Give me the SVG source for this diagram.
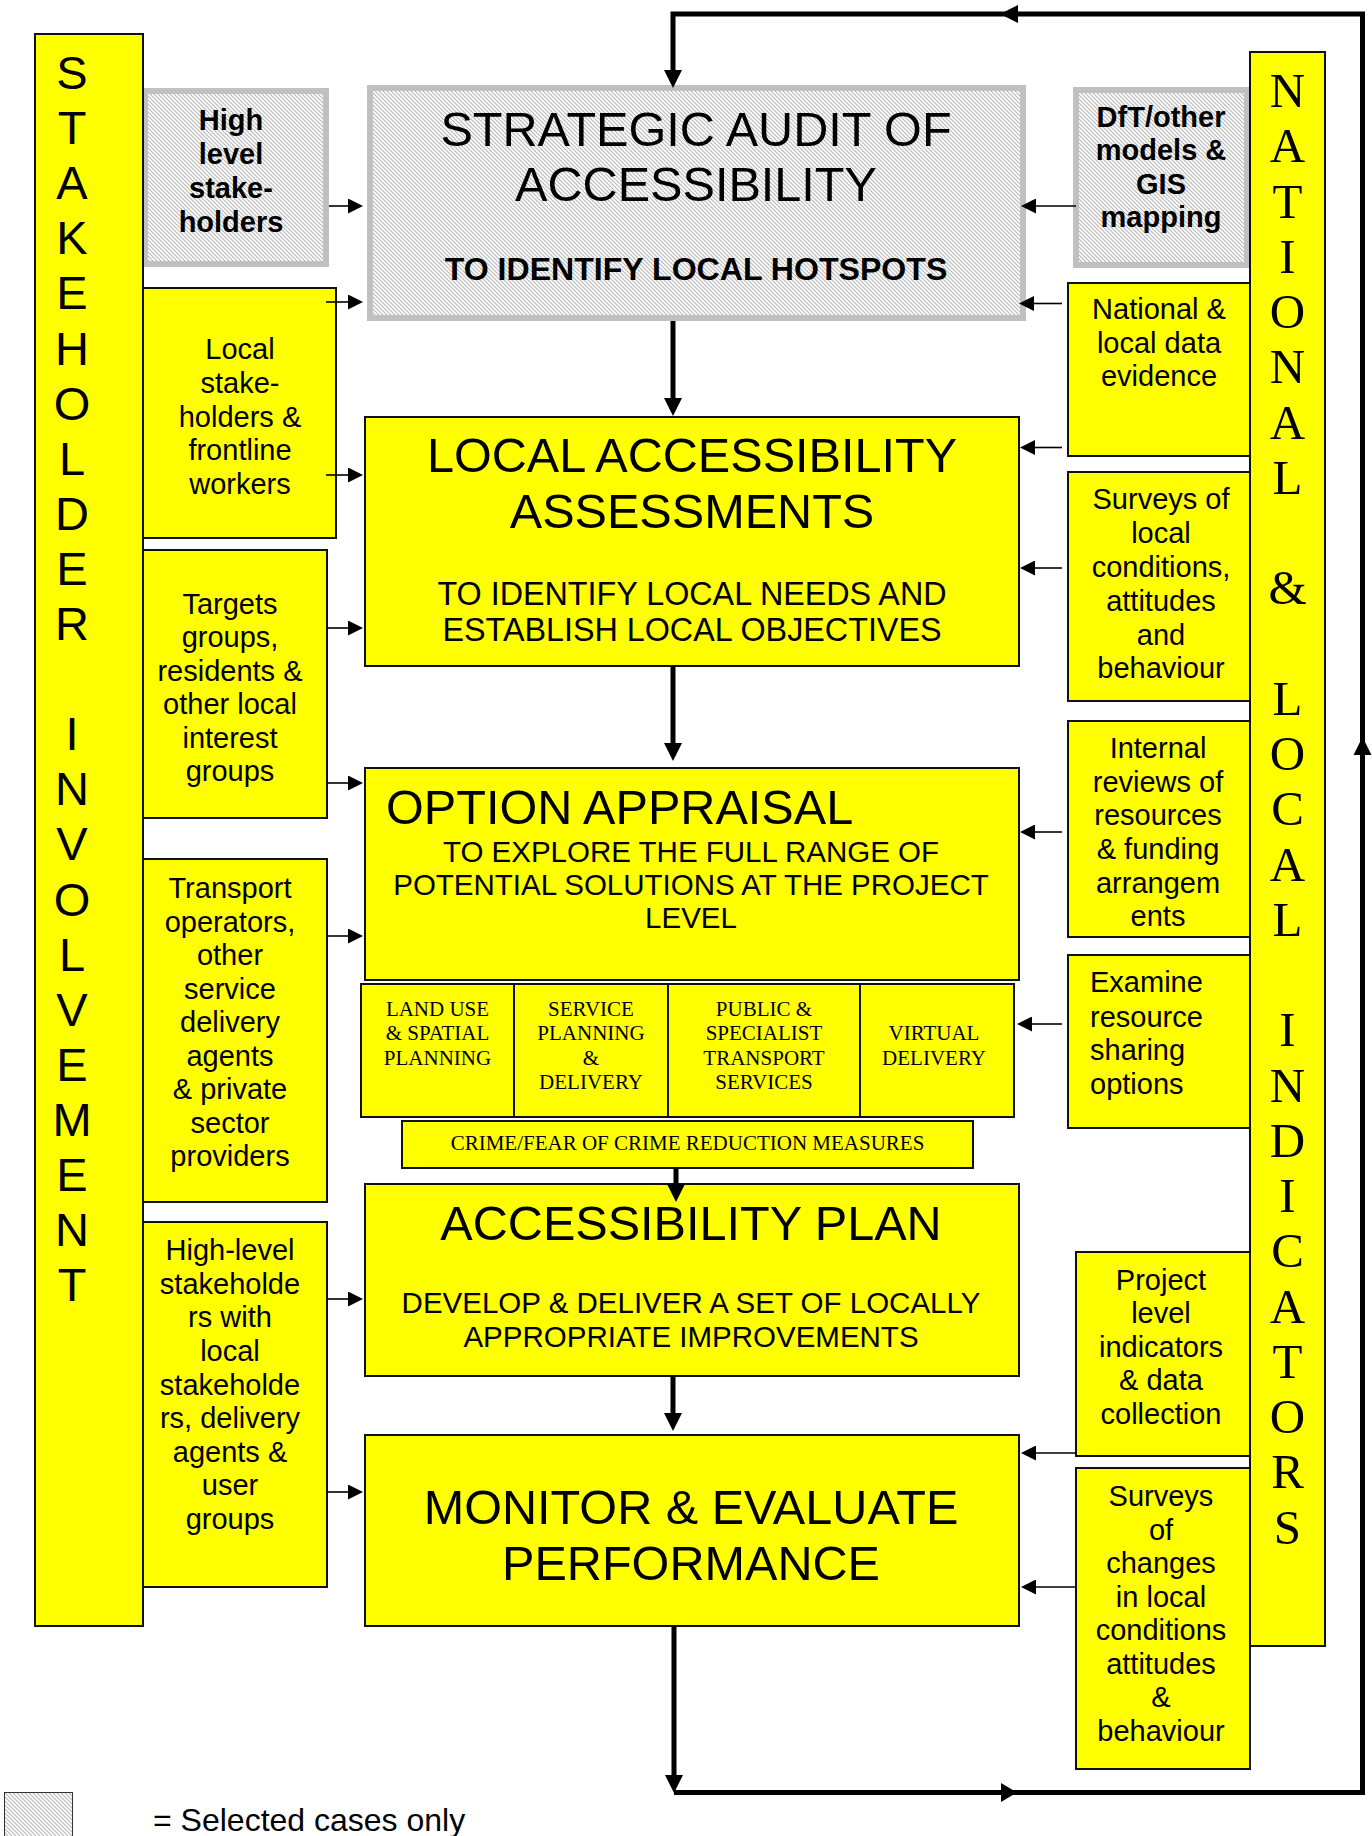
<svg xmlns="http://www.w3.org/2000/svg" width="1372" height="1836" viewBox="0 0 1372 1836">
<style>
.y{fill:#ffff00;stroke:#111;stroke-width:2}
.h{fill:url(#hatch);stroke:#c0c0c0;stroke-width:6}
.t{font-family:"Liberation Sans",Arial,sans-serif;fill:#000}
.s{font-family:"Liberation Serif","Times New Roman",serif;fill:#000}
.title{font-size:48.6px}
.sm{font-size:29px}
.bd{font-size:29px;font-weight:bold}
.sub{font-size:21px}
.c{text-anchor:middle}
.thin{stroke:#000;stroke-width:1.6;fill:none;marker-end:url(#a)}
.thick{stroke:#000;stroke-width:5;fill:none;stroke-linejoin:miter}
.tb{marker-end:url(#b)}
</style>
<defs>
<pattern id="hatch" patternUnits="userSpaceOnUse" width="4" height="4">
<rect width="4" height="4" fill="#fff"/>
<path d="M-1,-1 L5,5 M-1,3 L1,5 M3,-1 L5,1" stroke="#b8b8b8" stroke-width="1.1"/>
</pattern>
<marker id="a" markerUnits="userSpaceOnUse" viewBox="0 0 15 15" markerWidth="15" markerHeight="15" refX="1" refY="7.5" orient="auto"><path d="M0,0 L15,7.5 L0,15 z" fill="#000"/></marker>
<marker id="b" markerUnits="userSpaceOnUse" viewBox="0 0 18 18" markerWidth="18" markerHeight="18" refX="1" refY="9" orient="auto"><path d="M0,0 L18,9 L0,18 z" fill="#000"/></marker>
</defs>
<rect width="1372" height="1836" fill="#fff"/>

<g id="high-level-stakeholders">
<rect class="h" x="145" y="91" width="181" height="173"/>
<text class="t bd c"><tspan x="231" y="130">High</tspan><tspan x="231" y="164">level</tspan><tspan x="231" y="197.5">stake-</tspan><tspan x="231" y="232">holders</tspan></text>
</g>
<g id="local-stakeholders">
<rect class="y" x="143" y="288" width="193" height="250"/>
<text class="t sm c"><tspan x="240" y="359">Local</tspan><tspan x="240" y="393">stake-</tspan><tspan x="240" y="426.5">holders &amp;</tspan><tspan x="240" y="460">frontline</tspan><tspan x="240" y="493.5">workers</tspan></text>
</g>
<g id="target-groups">
<rect class="y" x="143" y="550" width="184" height="268"/>
<text class="t sm c"><tspan x="230" y="613.5">Targets</tspan><tspan x="230" y="647">groups,</tspan><tspan x="230" y="680.5">residents &amp;</tspan><tspan x="230" y="714">other local</tspan><tspan x="230" y="747.5">interest</tspan><tspan x="230" y="781">groups</tspan></text>
</g>
<g id="transport-operators">
<rect class="y" x="143" y="859" width="184" height="343"/>
<text class="t sm c"><tspan x="230" y="898">Transport</tspan><tspan x="230" y="931.5">operators,</tspan><tspan x="230" y="965">other</tspan><tspan x="230" y="998.5">service</tspan><tspan x="230" y="1032">delivery</tspan><tspan x="230" y="1065.5">agents</tspan><tspan x="230" y="1099">&amp; private</tspan><tspan x="230" y="1132.5">sector</tspan><tspan x="230" y="1166">providers</tspan></text>
</g>
<g id="high-level-with-local">
<rect class="y" x="143" y="1222" width="184" height="365"/>
<text class="t sm c"><tspan x="230" y="1260">High-level</tspan><tspan x="230" y="1293.5">stakeholde</tspan><tspan x="230" y="1327">rs with</tspan><tspan x="230" y="1361">local</tspan><tspan x="230" y="1394.5">stakeholde</tspan><tspan x="230" y="1428">rs, delivery</tspan><tspan x="230" y="1461.5">agents &amp;</tspan><tspan x="230" y="1495">user</tspan><tspan x="230" y="1528.5">groups</tspan></text>
</g>

<g id="stakeholder-involvement">
<rect class="y" x="35" y="34" width="108" height="1592"/>
<text class="t c" font-size="47"><tspan x="72" y="89">S</tspan><tspan x="72" y="144.1">T</tspan><tspan x="72" y="199.2">A</tspan><tspan x="72" y="254.3">K</tspan><tspan x="72" y="309.4">E</tspan><tspan x="72" y="364.5">H</tspan><tspan x="72" y="419.6">O</tspan><tspan x="72" y="474.7">L</tspan><tspan x="72" y="529.8">D</tspan><tspan x="72" y="584.9">E</tspan><tspan x="72" y="640">R</tspan><tspan x="72" y="750.2">I</tspan><tspan x="72" y="805.3">N</tspan><tspan x="72" y="860.4">V</tspan><tspan x="72" y="915.5">O</tspan><tspan x="72" y="970.6">L</tspan><tspan x="72" y="1025.7">V</tspan><tspan x="72" y="1080.8">E</tspan><tspan x="72" y="1135.9">M</tspan><tspan x="72" y="1191">E</tspan><tspan x="72" y="1246.1">N</tspan><tspan x="72" y="1301.2">T</tspan></text>
</g>

<g id="strategic-audit">
<rect class="h" x="370" y="88" width="653" height="230"/>
<text class="t title c"><tspan x="696" y="146">STRATEGIC AUDIT OF</tspan><tspan x="696" y="201">ACCESSIBILITY</tspan></text>
<text class="t c" font-size="32.1" font-weight="bold" x="696" y="280">TO IDENTIFY LOCAL HOTSPOTS</text>
</g>
<g id="local-assessments">
<rect class="y" x="365" y="417" width="654" height="249"/>
<text class="t title c"><tspan x="692" y="472">LOCAL ACCESSIBILITY</tspan><tspan x="692" y="528">ASSESSMENTS</tspan></text>
<text class="t c" font-size="32.3"><tspan x="692" y="605">TO IDENTIFY LOCAL NEEDS AND</tspan><tspan x="692" y="641">ESTABLISH LOCAL OBJECTIVES</tspan></text>
</g>
<g id="option-appraisal">
<rect class="y" x="365" y="768" width="654" height="212"/>
<text class="t title" x="386" y="824">OPTION APPRAISAL</text>
<text class="t c" font-size="29.5"><tspan x="691" y="862">TO EXPLORE THE FULL RANGE OF</tspan><tspan x="691" y="895">POTENTIAL SOLUTIONS AT THE PROJECT</tspan><tspan x="691" y="928">LEVEL</tspan></text>
</g>
<g id="land-use">
<rect class="y" x="361" y="984" width="153" height="133"/>
<text class="s sub c"><tspan x="437.5" y="1015.5">LAND USE</tspan><tspan x="437.5" y="1040">&amp; SPATIAL</tspan><tspan x="437.5" y="1064.5">PLANNING</tspan></text>
</g>
<g id="service-planning">
<rect class="y" x="514" y="984" width="154" height="133"/>
<text class="s sub c"><tspan x="591" y="1015.5">SERVICE</tspan><tspan x="591" y="1040">PLANNING</tspan><tspan x="591" y="1064.5">&amp;</tspan><tspan x="591" y="1089">DELIVERY</tspan></text>
</g>
<g id="public-specialist">
<rect class="y" x="668" y="984" width="192" height="133"/>
<text class="s sub c"><tspan x="764" y="1015.5">PUBLIC &amp;</tspan><tspan x="764" y="1040">SPECIALIST</tspan><tspan x="764" y="1064.5">TRANSPORT</tspan><tspan x="764" y="1089">SERVICES</tspan></text>
</g>
<g id="virtual-delivery">
<rect class="y" x="860" y="984" width="154" height="133"/>
<text class="s sub c"><tspan x="934" y="1040">VIRTUAL</tspan><tspan x="934" y="1064.5">DELIVERY</tspan></text>
</g>
<g id="crime-reduction">
<rect class="y" x="402" y="1121" width="571" height="47"/>
<text class="s sub c" x="687.5" y="1150">CRIME/FEAR OF CRIME REDUCTION MEASURES</text>
</g>
<g id="accessibility-plan">
<rect class="y" x="365" y="1184" width="654" height="192"/>
<text class="t title c" x="691" y="1240">ACCESSIBILITY PLAN</text>
<text class="t c" font-size="29.5"><tspan x="691" y="1313">DEVELOP &amp; DELIVER A SET OF LOCALLY</tspan><tspan x="691" y="1347">APPROPRIATE IMPROVEMENTS</tspan></text>
</g>
<g id="monitor-evaluate">
<rect class="y" x="365" y="1435" width="654" height="191"/>
<text class="t title c"><tspan x="691" y="1524">MONITOR &amp; EVALUATE</tspan><tspan x="691" y="1580">PERFORMANCE</tspan></text>
</g>

<g id="dft-models">
<rect class="h" x="1076" y="90" width="171" height="175"/>
<text class="t bd c"><tspan x="1161" y="127">DfT/other</tspan><tspan x="1161" y="160">models &amp;</tspan><tspan x="1161" y="193.5">GIS</tspan><tspan x="1161" y="227">mapping</tspan></text>
</g>
<g id="national-local-data">
<rect class="y" x="1068" y="283" width="182" height="173"/>
<text class="t sm c"><tspan x="1159" y="319">National &amp;</tspan><tspan x="1159" y="352.5">local data</tspan><tspan x="1159" y="386">evidence</tspan></text>
</g>
<g id="surveys-local-conditions">
<rect class="y" x="1068" y="472" width="182" height="229"/>
<text class="t sm c"><tspan x="1161" y="509">Surveys of</tspan><tspan x="1161" y="543">local</tspan><tspan x="1161" y="577">conditions,</tspan><tspan x="1161" y="611">attitudes</tspan><tspan x="1161" y="644.5">and</tspan><tspan x="1161" y="678">behaviour</tspan></text>
</g>
<g id="internal-reviews">
<rect class="y" x="1068" y="721" width="182" height="216"/>
<text class="t sm c"><tspan x="1158" y="758">Internal</tspan><tspan x="1158" y="792">reviews of</tspan><tspan x="1158" y="825">resources</tspan><tspan x="1158" y="859">&amp; funding</tspan><tspan x="1158" y="892.5">arrangem</tspan><tspan x="1158" y="926">ents</tspan></text>
</g>
<g id="examine-resource">
<rect class="y" x="1068" y="955" width="182" height="173"/>
<text class="t sm"><tspan x="1090" y="992">Examine</tspan><tspan x="1090" y="1026.5">resource</tspan><tspan x="1090" y="1060">sharing</tspan><tspan x="1090" y="1093.5">options</tspan></text>
</g>
<g id="project-indicators">
<rect class="y" x="1076" y="1252" width="174" height="204"/>
<text class="t sm c"><tspan x="1161" y="1290">Project</tspan><tspan x="1161" y="1323">level</tspan><tspan x="1161" y="1356.5">indicators</tspan><tspan x="1161" y="1390">&amp; data</tspan><tspan x="1161" y="1423.5">collection</tspan></text>
</g>
<g id="surveys-changes">
<rect class="y" x="1076" y="1468" width="174" height="301"/>
<text class="t sm c"><tspan x="1161" y="1506">Surveys</tspan><tspan x="1161" y="1539.5">of</tspan><tspan x="1161" y="1573">changes</tspan><tspan x="1161" y="1606.5">in local</tspan><tspan x="1161" y="1640">conditions</tspan><tspan x="1161" y="1673.5">attitudes</tspan><tspan x="1161" y="1707">&amp;</tspan><tspan x="1161" y="1740.5">behaviour</tspan></text>
</g>

<g id="national-local-indicators">
<rect class="y" x="1250" y="52" width="75" height="1594"/>
<text class="s c" font-size="49"><tspan x="1287.5" y="107">N</tspan><tspan x="1287.5" y="162.3">A</tspan><tspan x="1287.5" y="217.5">T</tspan><tspan x="1287.5" y="272.8">I</tspan><tspan x="1287.5" y="328">O</tspan><tspan x="1287.5" y="383.3">N</tspan><tspan x="1287.5" y="438.5">A</tspan><tspan x="1287.5" y="493.8">L</tspan><tspan x="1287.5" y="604.3">&amp;</tspan><tspan x="1287.5" y="714.8">L</tspan><tspan x="1287.5" y="770">O</tspan><tspan x="1287.5" y="825.3">C</tspan><tspan x="1287.5" y="880.5">A</tspan><tspan x="1287.5" y="935.8">L</tspan><tspan x="1287.5" y="1046.3">I</tspan><tspan x="1287.5" y="1101.5">N</tspan><tspan x="1287.5" y="1156.8">D</tspan><tspan x="1287.5" y="1212">I</tspan><tspan x="1287.5" y="1267.3">C</tspan><tspan x="1287.5" y="1322.5">A</tspan><tspan x="1287.5" y="1377.8">T</tspan><tspan x="1287.5" y="1433">O</tspan><tspan x="1287.5" y="1488.3">R</tspan><tspan x="1287.5" y="1543.5">S</tspan></text>
</g>

<g id="legend">
<rect x="4.5" y="1792.5" width="68" height="50" fill="url(#hatch)" stroke="#333" stroke-width="1"/>
<text class="t" font-size="32" x="153" y="1831">= Selected cases only</text>
</g>

<g id="connectors">
<path class="thin" d="M329,206 H349"/>
<path class="thin" d="M326,302 H349"/>
<path class="thin" d="M326,475 H349"/>
<path class="thin" d="M327,628 H349"/>
<path class="thin" d="M327,783 H349"/>
<path class="thin" d="M327,936 H349"/>
<path class="thin" d="M327,1299 H349"/>
<path class="thin" d="M327,1492 H349"/>
<path class="thin" d="M1076,206 H1035"/>
<path class="thin" d="M1062,303.5 H1033"/>
<path class="thin" d="M1062,447.5 H1034"/>
<path class="thin" d="M1062,568 H1034"/>
<path class="thin" d="M1062,832 H1034"/>
<path class="thin" d="M1062,1024 H1031"/>
<path class="thin" d="M1076,1453 H1035"/>
<path class="thin" d="M1076,1587 H1035"/>
<path class="thick tb" d="M1362.5,1795 V14 H673 V71"/>
<path class="thick" d="M674,1792.5 H1365"/>
<path class="thick tb" d="M673,321 V399"/>
<path class="thick tb" d="M673,666 V744"/>
<path class="thick tb" d="M676,1168 V1185"/>
<path class="thick tb" d="M673,1376 V1414"/>
<path class="thick tb" d="M674,1626 V1776"/>
<polygon points="1000,14 1018,5 1018,23" fill="#000"/>
<polygon points="1362.5,737 1353.5,755 1371.5,755" fill="#000"/>
<polygon points="1017,1792.5 1001,1783 1001,1802" fill="#000"/>
</g>
</svg>
